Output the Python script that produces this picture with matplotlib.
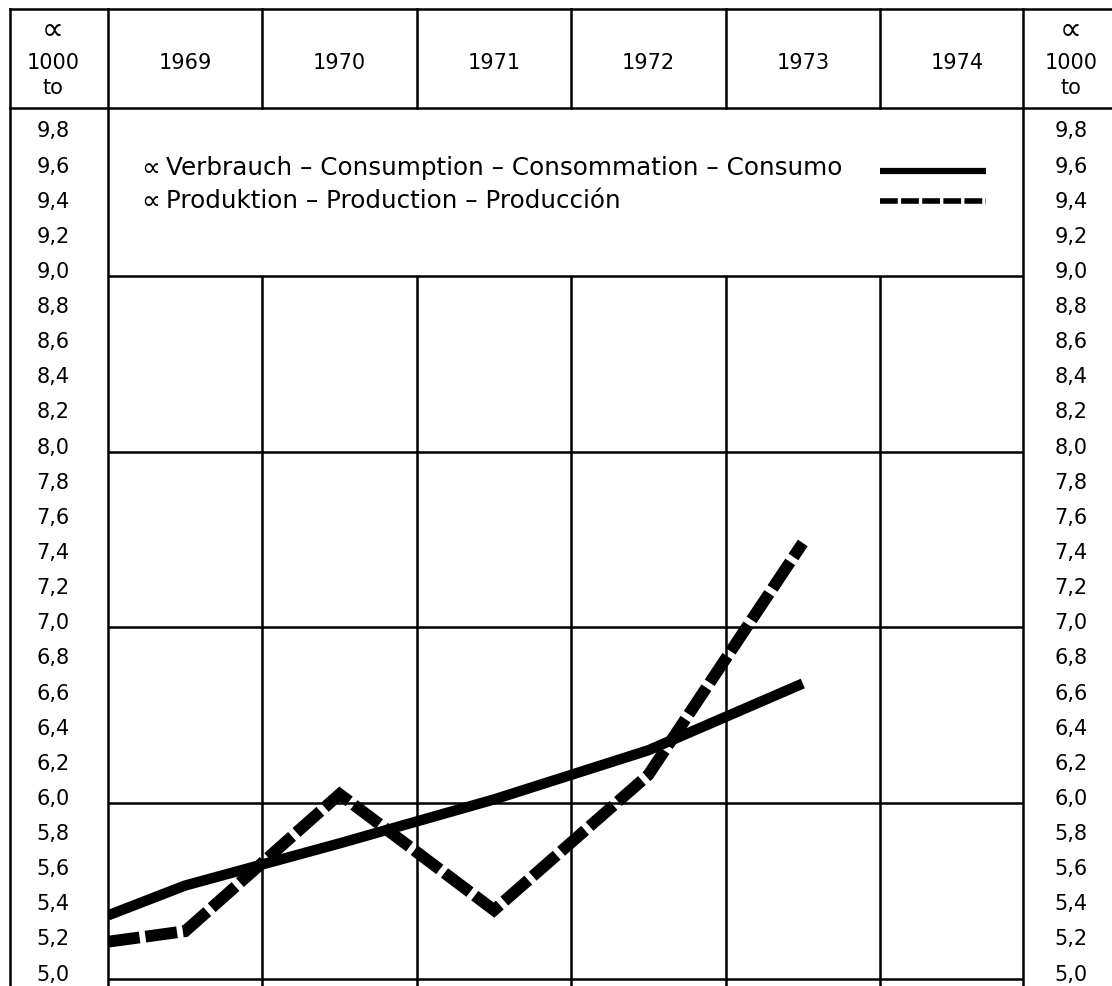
import numpy as np
import matplotlib
matplotlib.use("Agg")
import matplotlib.pyplot as plt
import matplotlib.transforms as mtransforms

plt.rcParams['font.family'] = ['DejaVu Sans']

# ---------------- data ----------------
years = [1969, 1970, 1971, 1972, 1973, 1974]
x_points = [1968.5, 1969, 1970, 1971, 1972, 1973]
consumption = [5.36, 5.53, 5.77, 6.02, 6.30, 6.68]
production = [5.21, 5.27, 6.05, 5.39, 6.16, 7.48]
y_ticks = [5.0, 5.2, 5.4, 5.6, 5.8, 6.0, 6.2, 6.4, 6.6, 6.8, 7.0, 7.2, 7.4, 7.6,
           7.8, 8.0, 8.2, 8.4, 8.6, 8.8, 9.0, 9.2, 9.4, 9.6, 9.8]
y_tick_labels = [f"{v:.1f}".replace(".", ",") for v in y_ticks]
grid_levels = [5.0, 6.0, 7.0, 8.0, 9.0]
unit_symbol = "\u221d"
unit_lines = ["1000", "to"]
legend_labels = ["Verbrauch \u2013 Consumption \u2013 Consommation \u2013 Consumo",
                 "Produktion \u2013 Production \u2013 Producción"]

W, H = 1112, 987
fig = plt.figure(figsize=(W / 100, H / 100), dpi=100)

# overlay in pixel coordinates (for the table frame)
ov = fig.add_axes([0, 0, 1, 1])
ov.set_xlim(0, W)
ov.set_ylim(H, 0)
ov.axis('off')

# main plot area (pixels 108..1023 horizontally, 109..987 vertically)
L, R, T, B = 108, 1023, 109, 987
ax = fig.add_axes([L / W, 1 - B / H, (R - L) / W, (B - T) / H])
ax.axis('off')
ax.set_xlim(1968.5, 1968.5 + (R - L) / 154.4)
ax.set_ylim(4.958, 9.956)

lw_frame = 1.8
k = 'black'
# outer frame / column separators
ov.plot([10, W], [10, 10], color=k, lw=lw_frame)
ov.plot([10, W], [T, T], color=k, lw=lw_frame)
ov.plot([10, 10], [10, H], color=k, lw=lw_frame)
ov.plot([L, L], [10, H], color=k, lw=lw_frame)
ov.plot([R, R], [10, H], color=k, lw=lw_frame)

# header year separators (top part) and grid separators (bottom part)
hdr = mtransforms.blended_transform_factory(ax.transData, ov.transData)
bounds = [y + 0.5 for y in years[:-1]]
for b in bounds:
    ov.plot([b, b], [10, T], color=k, lw=lw_frame, transform=hdr)
ax.vlines(bounds, ymin=4.958, ymax=9.0, color=k, lw=lw_frame)
ax.hlines(grid_levels, xmin=ax.get_xlim()[0], xmax=ax.get_xlim()[1], color=k, lw=lw_frame)

# year labels
for y in years:
    ov.text(y, 63, str(y), transform=hdr, ha='center', va='center', fontsize=15)

# unit labels in header
for xc in (53, 1071):
    ov.text(xc, 31, unit_symbol, ha='center', va='center', fontsize=22)
    ov.text(xc, 63, unit_lines[0], ha='center', va='center', fontsize=15)
    ov.text(xc, 88, unit_lines[1], ha='center', va='center', fontsize=15)

# y labels on both sides
lab_tr = mtransforms.offset_copy(
    mtransforms.blended_transform_factory(ov.transData, ax.transData), fig=fig, y=5, units='dots')
for v, s in zip(y_ticks, y_tick_labels):
    ov.text(53, v, s, transform=lab_tr, ha='center', va='center', fontsize=15)
    ov.text(1071, v, s, transform=lab_tr, ha='center', va='center', fontsize=15)

# data lines
ax.plot(x_points, consumption, color=k, lw=7.5, solid_capstyle='butt', solid_joinstyle='miter')
ax.plot(x_points, production, color=k, lw=8.5, linestyle=(0, (2.7, 0.5)),
        dash_capstyle='butt', dash_joinstyle='miter')

# legend
for yy, lab in zip((168, 201), legend_labels):
    ov.text(141, yy + 1, unit_symbol, ha='left', va='center', fontsize=19)
    ov.text(166, yy, lab, ha='left', va='center', fontsize=17.7)
ov.plot([880, 986], [172, 172], color=k, lw=4.5, solid_capstyle='butt')
ov.plot([880, 986], [202, 202], color=k, lw=4, linestyle=(0, (3.2, 0.6)), dash_capstyle='butt')

fig.savefig("out.png", dpi=100)
